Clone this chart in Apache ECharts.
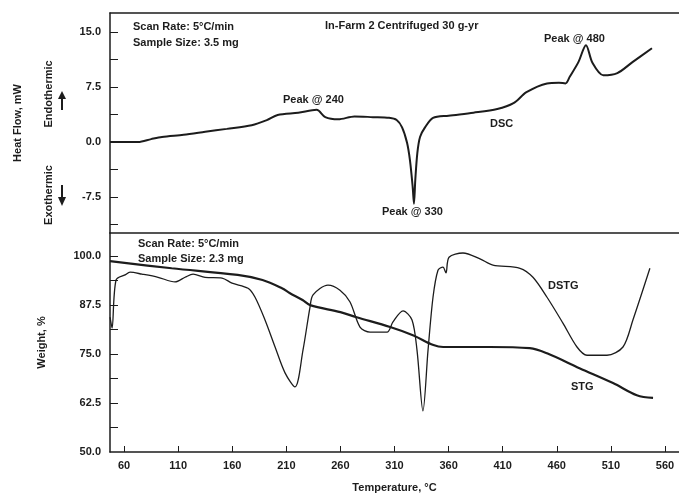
<!DOCTYPE html>
<html>
<head>
<meta charset="utf-8">
<script src="https://cdn.jsdelivr.net/npm/echarts@6/dist/echarts.min.js"></script>
<style>
  html, body { margin: 0; padding: 0; background: #fff; }
  #chart { width: 679px; height: 494px; }
</style>
</head>
<body>
<div id="chart"></div>
<script>
// DSC curve (top panel), temperature in °C and heat flow in mW
const dscTemp = [47, 60, 73, 85, 95, 115, 135, 155, 178, 192, 202, 221, 238, 246, 258, 273, 290, 305, 312, 317, 321.6, 324.3, 326.8, 328, 329.2, 331.1, 333.6, 338.2, 345.6, 360, 383, 405, 420, 432, 451, 462, 468, 472, 480, 487, 493, 503, 516, 530, 548];
const dscFlow = [0.0, 0.0, 0.0, 0.4, 0.7, 1.0, 1.4, 1.8, 2.3, 3.0, 3.7, 4.0, 4.4, 3.4, 3.1, 3.5, 3.4, 3.3, 3.0, 2.0, -0.1, -2.5, -6.1, -8.4, -5.2, -1.5, 0.7, 2.0, 3.3, 3.6, 4.0, 4.5, 5.3, 6.8, 8.0, 8.1, 8.0, 8.9, 10.9, 13.2, 10.8, 9.1, 9.4, 10.9, 12.8];

// STG weight curve (bottom panel)
const stgTemp = [47, 104, 165, 188, 206, 213, 225, 232, 260, 275, 306, 327, 346, 355, 398, 435, 451, 481, 512, 534, 549];
const stgWeight = [98.7, 96.9, 95.2, 93.9, 91.8, 90.6, 88.8, 87.5, 85.7, 84.4, 81.9, 79.8, 77.3, 76.8, 76.8, 76.5, 75.2, 71.4, 67.6, 64.5, 63.8];

// DSTG curve (bottom panel)
const dstgTemp = [47.1, 48.9, 52.6, 60.9, 65.5, 76.6, 91.4, 107.1, 116.4, 123.8, 134.9, 150.6, 159.8, 174.6, 181.1, 190.3, 199.6, 208.8, 218, 225.4, 231.9, 234.7, 248.5, 259.6, 268.9, 278.1, 287.4, 303.1, 308.6, 317.9, 326.2, 330.8, 336.3, 341, 345.6, 350.2, 354.8, 357.6, 360.4, 373.3, 389, 401, 426, 438, 451, 465.7, 478.7, 487.9, 506.4, 521.2, 530.4, 546.1];
const dstgWeight = [84.4, 81.6, 93.9, 95.2, 95.9, 95.4, 94.6, 93.4, 94.6, 95.4, 94.6, 94.4, 93.1, 91.8, 89.5, 83.7, 76.8, 70.2, 66.6, 76, 87.0, 90.1, 92.6, 91.3, 88.3, 81.9, 80.6, 80.6, 83.2, 86.0, 83.7, 76.0, 60.5, 76, 89.5, 96.4, 97.2, 95.7, 99.7, 100.8, 99.3, 97.7, 96.9, 94.6, 89.5, 82.9, 76.8, 74.7, 74.7, 76.8, 83.7, 96.9];

// tick labels
const tempTicks = [60, 110, 160, 210, 260, 310, 360, 410, 460, 510, 560];
const heatTicks = [-7.5, 0, 7.5, 15];
const heatMinor = [-11.25, -7.5, -3.75, 0, 3.75, 7.5, 11.25, 15];
const weightTicks = [50, 62.5, 75, 87.5, 100];
const weightMinor = [56.25, 62.5, 68.75, 75, 81.25, 87.5, 93.75, 100];

const zip = (a, b) => a.map((v, i) => [v, b[i]]);

const ink = "#1c1c1c";
const font = "Liberation Sans, Arial, sans-serif";
const txt = { fontFamily: font, fontSize: 11, fontWeight: "bold", fill: ink };

const myChart = echarts.init(document.getElementById("chart"));

function note(text, x, y, extra) {
  return {
    type: "text",
    x: x,
    y: y,
    style: Object.assign({ text: text, textVerticalAlign: "middle" }, txt, extra || {})
  };
}

const frameAxis = (grid, pos) => ({
  gridIndex: grid, type: "value", min: 47, max: 573, position: pos,
  axisLine: { onZero: false, lineStyle: { color: ink, width: 1.5 } },
  axisTick: { show: false }, axisLabel: { show: false }, splitLine: { show: false }
});

const option = {
  backgroundColor: "#fff",
  animation: false,
  grid: [
    { left: 110, top: 13, right: 0, height: 220 },
    { left: 110, top: 233, right: 0, height: 219 }
  ],
  xAxis: [
    frameAxis(0, "bottom"),
    frameAxis(0, "top"),
    {
      gridIndex: 1, type: "value", min: 47, max: 573,
      name: "Temperature, °C", nameLocation: "middle", nameGap: 30,
      nameTextStyle: { fontFamily: font, fontSize: 11, fontWeight: "bold", color: ink },
      axisLine: { onZero: false, lineStyle: { color: ink, width: 1.5 } },
      axisTick: { inside: true, length: 6, customValues: tempTicks, lineStyle: { color: ink } },
      axisLabel: { customValues: tempTicks, margin: 8, fontFamily: font, fontSize: 11, fontWeight: "bold", color: ink },
      splitLine: { show: false }
    }
  ],
  yAxis: [
    {
      gridIndex: 0, type: "value", min: -12.4, max: 17.6,
      name: "Heat Flow, mW", nameLocation: "middle", nameGap: 87,
      nameTextStyle: { fontFamily: font, fontSize: 11, fontWeight: "bold", color: ink },
      axisLine: { onZero: false, lineStyle: { color: ink, width: 1.5 } },
      axisTick: { inside: true, length: 8, customValues: heatMinor, lineStyle: { color: ink } },
      axisLabel: {
        customValues: heatTicks, margin: 9, fontFamily: font, fontSize: 11, fontWeight: "bold", color: ink,
        formatter: v => v.toFixed(1)
      },
      splitLine: { show: false }
    },
    {
      gridIndex: 1, type: "value", min: 50, max: 105.9,
      name: "Weight, %", nameLocation: "middle", nameGap: 63,
      nameTextStyle: { fontFamily: font, fontSize: 11, fontWeight: "bold", color: ink },
      axisLine: { onZero: false, lineStyle: { color: ink, width: 1.5 } },
      axisTick: { inside: true, length: 8, customValues: weightMinor, lineStyle: { color: ink } },
      axisLabel: {
        customValues: weightTicks, margin: 9, fontFamily: font, fontSize: 11, fontWeight: "bold", color: ink,
        formatter: v => v.toFixed(1)
      },
      splitLine: { show: false }
    }
  ],
  series: [
    {
      name: "DSC", type: "line", xAxisIndex: 0, yAxisIndex: 0,
      data: zip(dscTemp, dscFlow), showSymbol: false, smooth: 0.3,
      lineStyle: { color: ink, width: 2 }
    },
    {
      name: "STG", type: "line", xAxisIndex: 2, yAxisIndex: 1,
      data: zip(stgTemp, stgWeight), showSymbol: false, smooth: 0.35,
      lineStyle: { color: ink, width: 2.2 }
    },
    {
      name: "DSTG", type: "line", xAxisIndex: 2, yAxisIndex: 1,
      data: zip(dstgTemp, dstgWeight), showSymbol: false, smooth: 0.3,
      lineStyle: { color: ink, width: 1.3 }
    }
  ],
  graphic: [
    note("Scan Rate: 5°C/min", 133, 27),
    note("Sample Size: 3.5 mg", 133, 43),
    note("In-Farm 2 Centrifuged 30 g-yr", 325, 26),
    note("Peak @ 240", 283, 100),
    note("Peak @ 330", 382, 212),
    note("Peak @ 480", 544, 39),
    note("DSC", 490, 124),
    note("Scan Rate: 5°C/min", 138, 244),
    note("Sample Size: 2.3 mg", 138, 259),
    note("DSTG", 548, 286),
    note("STG", 571, 387),
    Object.assign(note("Endothermic", 49, 94, { textAlign: "center" }), { rotation: Math.PI / 2 }),
    Object.assign(note("Exothermic", 49, 195, { textAlign: "center" }), { rotation: Math.PI / 2 }),
    {
      type: "group",
      children: [
        { type: "line", shape: { x1: 62, y1: 110, x2: 62, y2: 97 }, style: { stroke: ink, lineWidth: 2 } },
        { type: "polygon", shape: { points: [[58, 99], [66, 99], [62, 91]] }, style: { fill: ink } },
        { type: "line", shape: { x1: 62, y1: 185, x2: 62, y2: 199 }, style: { stroke: ink, lineWidth: 2 } },
        { type: "polygon", shape: { points: [[58, 197], [66, 197], [62, 206]] }, style: { fill: ink } }
      ]
    }
  ]
};

myChart.setOption(option);
</script>
</body>
</html>
